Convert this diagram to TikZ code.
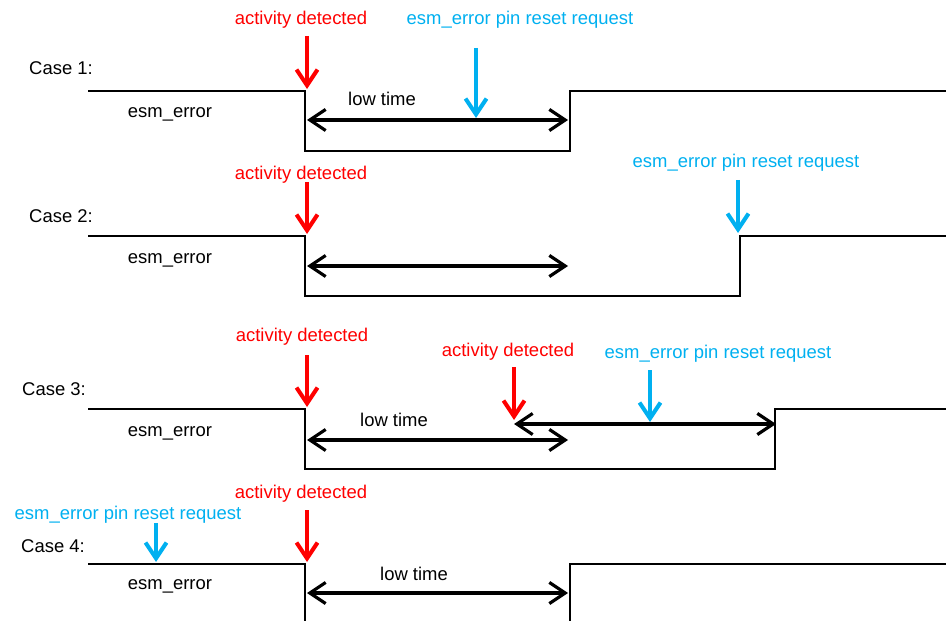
\documentclass[tikz,border=0pt]{standalone}
\usepackage{fontspec}
\setmainfont{Liberation Sans}
\usetikzlibrary{arrows.meta}

\definecolor{alarmred}{RGB}{255,0,0}
\definecolor{resetblue}{RGB}{0,176,240}

\tikzset{
  wave/.style={line width=1.1pt},
  event/.style={line width=2.3pt,-{Straight Barb[length=9pt,width=12pt]}},
  span/.style={line width=1.8pt,
    {Straight Barb[length=9pt,width=12pt]}-{Straight Barb[length=9pt,width=12pt]}},
  txt/.style={font=\fontsize{10.5}{12}\selectfont,inner sep=0pt,yshift=-1.4pt},
  actlbl/.style={txt,text=alarmred},
  rstlbl/.style={txt,text=resetblue},
}

\begin{document}
\begin{tikzpicture}[x=0.02cm,y=-0.02cm]
  \useasboundingbox (0,0) rectangle (946,621);

  % case 1
  \node[txt] (case1) at (61,66) {Case 1:};
  \node[txt] (sig1) at (170,112) {esm\_error};
  \draw[wave] (88,91) -- (305,91) coordinate (fall1) -- (305,151) -- (570,151)
    -- (570,91) coordinate (rise1) -- (946,91);
  \node[actlbl] (act1) at (301,17) {activity detected};
  \node[rstlbl] (rst1) at (520,17) {esm\_error pin reset request};
  \coordinate (act1s) at (307,36);   \coordinate (act1e) at (307,89);
  \coordinate (rst1s) at (476,48);   \coordinate (rst1e) at (476,118);
  \coordinate (low1a) at (307,120);  \coordinate (low1b) at (568,120);
  \node[txt] (low1) at (382,96) {low time};
  \draw[span] (low1a) -- (low1b);
  \draw[event,alarmred] (act1s) -- (act1e);
  \draw[event,resetblue] (rst1s) -- (rst1e);

  % case 2
  \node[txt] (case2) at (61,214) {Case 2:};
  \node[txt] (sig2) at (170,258) {esm\_error};
  \draw[wave] (88,236) -- (305,236) coordinate (fall2) -- (305,296) -- (740,296)
    -- (740,236) coordinate (rise2) -- (946,236);
  \node[actlbl] (act2) at (301,172) {activity detected};
  \node[rstlbl] (rst2) at (746,160) {esm\_error pin reset request};
  \coordinate (act2s) at (307,182);  \coordinate (act2e) at (307,234);
  \coordinate (rst2s) at (738,180);  \coordinate (rst2e) at (738,233);
  \coordinate (low2a) at (307,266);  \coordinate (low2b) at (568,266);
  \draw[span] (low2a) -- (low2b);
  \draw[event,alarmred] (act2s) -- (act2e);
  \draw[event,resetblue] (rst2s) -- (rst2e);

  % case 3
  \node[txt] (case3) at (54,387) {Case 3:};
  \node[txt] (sig3) at (170,431) {esm\_error};
  \draw[wave] (88,409) -- (305,409) coordinate (fall3) -- (305,469) -- (775,469)
    -- (775,409) coordinate (rise3) -- (946,409);
  \node[actlbl] (act3) at (302,334) {activity detected};
  \node[actlbl] (act3b) at (508,349) {activity detected};
  \node[rstlbl] (rst3) at (718,351) {esm\_error pin reset request};
  \coordinate (act3s) at (307,355);  \coordinate (act3e) at (307,407);
  \coordinate (act3bs) at (514,367); \coordinate (act3be) at (514,420);
  \coordinate (rst3s) at (650,370);  \coordinate (rst3e) at (650,422);
  \coordinate (low3a) at (307,440);  \coordinate (low3b) at (568,440);
  \coordinate (low3c) at (514,424);  \coordinate (low3d) at (776,424);
  \node[txt] (low3) at (394,417) {low time};
  \draw[span] (low3a) -- (low3b);
  \draw[span] (low3c) -- (low3d);
  \draw[event,alarmred] (act3s) -- (act3e);
  \draw[event,alarmred] (act3bs) -- (act3be);
  \draw[event,resetblue] (rst3s) -- (rst3e);

  % case 4
  \node[txt] (case4) at (53,544) {Case 4:};
  \node[txt] (sig4) at (170,584) {esm\_error};
  \draw[wave] (88,564) -- (305,564) coordinate (fall4) -- (305,622);
  \draw[wave] (570,622) -- (570,564) coordinate (rise4) -- (946,564);
  \node[actlbl] (act4) at (301,491) {activity detected};
  \node[rstlbl] (rst4) at (128,512) {esm\_error pin reset request};
  \coordinate (act4s) at (307,510);  \coordinate (act4e) at (307,562);
  \coordinate (rst4s) at (156,523);  \coordinate (rst4e) at (156,562);
  \coordinate (low4a) at (307,593);  \coordinate (low4b) at (568,593);
  \node[txt] (low4) at (414,571) {low time};
  \draw[span] (low4a) -- (low4b);
  \draw[event,alarmred] (act4s) -- (act4e);
  \draw[event,resetblue] (rst4s) -- (rst4e);
\end{tikzpicture}
\end{document}
